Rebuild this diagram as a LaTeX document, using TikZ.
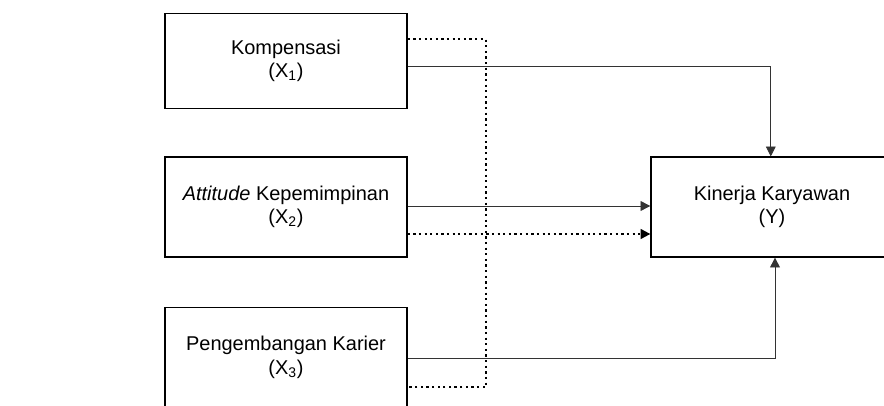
\documentclass[tikz,border=0pt]{standalone}
\usepackage{fontspec}
\setmainfont{Liberation Sans}
\usepackage{tikz}
\usetikzlibrary{arrows.meta, positioning}

\tikzset{
  varbox/.style={draw, line width=0.9pt, minimum width=6.05cm, minimum height=2.5cm,
    align=center, inner sep=0pt, font=\fontsize{14.2}{16.6}\selectfont},
  solidarrow/.style={draw=black!80, line width=0.6pt, -{Triangle[length=7pt,width=7pt]}},
  dotline/.style={line width=1.5pt, dash pattern=on 1.6pt off 2.4pt},
  dotarrow/.style={dotline, -{Triangle[length=7pt,width=7pt]}}
}

\begin{document}
\begin{tikzpicture}

  \useasboundingbox (0,0) rectangle (22.1,10.125);

  % Independent variables (left column)
  \node[varbox, minimum height=2.375cm] (x1) at (7.15,8.605) {Kompensasi\\(X\textsubscript{1})};
  \node[varbox] (x2) at (7.15,4.95) {\textit{Attitude} Kepemimpinan\\(X\textsubscript{2})};
  \node[varbox] (x3) at (7.15,1.19) {Pengembangan Karier\\(X\textsubscript{3})};

  % Dependent variable
  \node[varbox] (kin) at (19.3,4.95) {Kinerja Karyawan\\(Y)};

  % Partial effects (solid)
  \draw[solidarrow] ([yshift=-0.15cm]x1.east) -| ([xshift=-0.03cm]kin.north);
  \draw[solidarrow] ([yshift=0.025cm]x2.east) -- ([yshift=0.025cm]kin.west);
  \draw[solidarrow] ([yshift=-0.02cm]x3.east) -| ([xshift=0.075cm]kin.south);

  % Joint effect (dotted bracket)
  \coordinate (bus) at (12.15,0);
  \coordinate (d1) at ([yshift=0.54cm]x1.east);
  \coordinate (d3) at ([yshift=-0.74cm]x3.east);
  \draw[dotline] (d1) -- (d1 -| bus) -- (d3 -| bus) -- (d3);
  \draw[dotarrow] ([yshift=-0.675cm]x2.east) -- ([yshift=-0.675cm]kin.west);

\end{tikzpicture}
\end{document}
